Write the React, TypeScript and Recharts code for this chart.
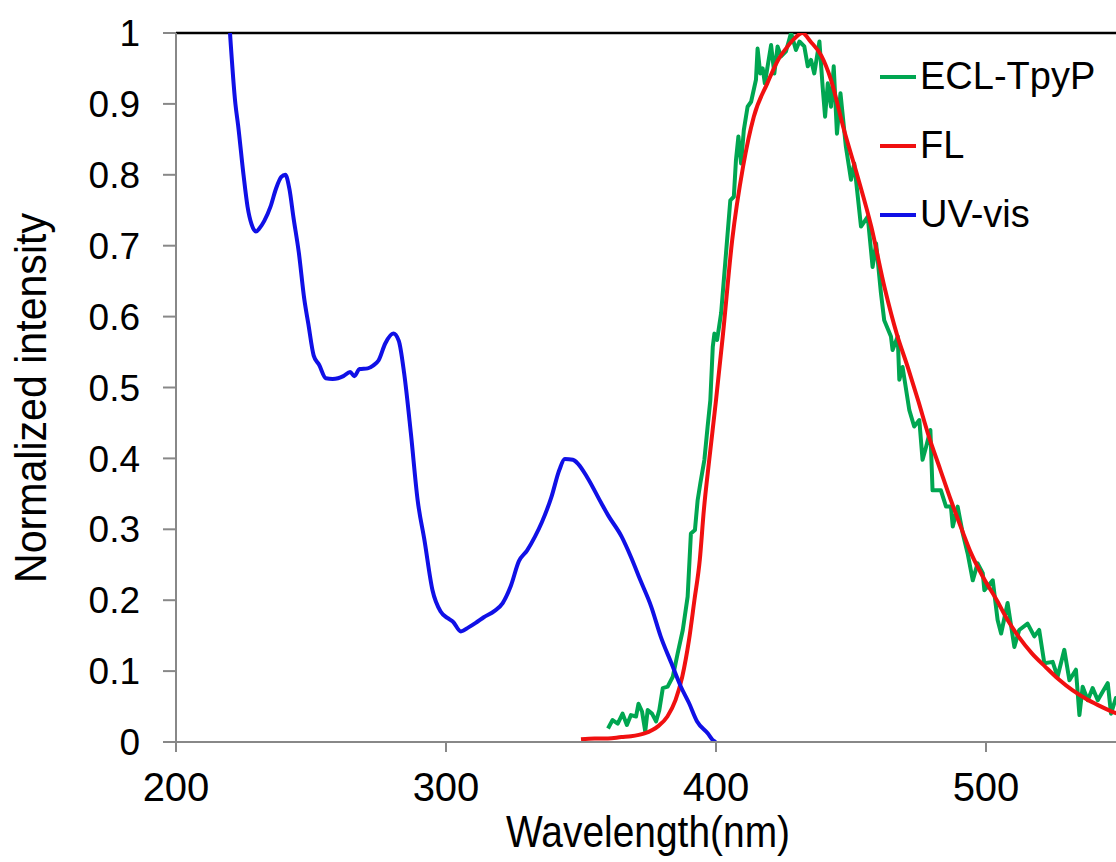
import { LineChart, Line, XAxis, YAxis, Legend, Label, ReferenceLine } from 'recharts'

const FONT = '"Liberation Sans", Arial, sans-serif'

const xTicks = [200, 300, 400, 500]
const yTicks = [0, 0.1, 0.2, 0.3, 0.4, 0.5, 0.6, 0.7, 0.8, 0.9, 1]

// UV-vis absorption
const uvX = [
  220, 222, 223, 225, 226.5, 228, 229.6, 231, 232.7, 235, 237, 239, 240.5, 242, 243.5, 245.5,
  247.5, 249, 251, 253, 255.5, 258, 260, 262, 264.5, 266, 268, 271, 273, 275, 277.5, 280.5,
  282.5, 284.5, 287, 289.5, 292, 295, 298, 300.5, 302.5, 305.5, 308.5, 311, 314, 318, 321,
  324, 327, 330, 333, 335.5, 339, 342, 344, 347, 349, 352.5, 357.5, 360, 365, 368.5, 372,
  376, 379.5, 383.5, 387, 390, 393, 397, 399, 400,
]
const uvY = [
  1.0, 0.9, 0.87, 0.8, 0.755, 0.73, 0.72, 0.725, 0.735, 0.755, 0.78, 0.797, 0.8, 0.78, 0.74, 0.69,
  0.625, 0.59, 0.545, 0.532, 0.513, 0.512, 0.513, 0.516, 0.522, 0.516, 0.526, 0.527, 0.531, 0.538, 0.562, 0.576,
  0.566, 0.52, 0.435, 0.341, 0.285, 0.214, 0.184, 0.175, 0.17, 0.156, 0.162, 0.168, 0.176, 0.185, 0.196,
  0.22, 0.255, 0.27, 0.29, 0.31, 0.345, 0.384, 0.399, 0.398, 0.392, 0.372, 0.337, 0.32, 0.29, 0.261, 0.228,
  0.191, 0.149, 0.111, 0.078, 0.055, 0.029, 0.012, 0.002, 0,
]

// fluorescence
const flX = [
  350, 355, 360, 365, 368.5, 373.5, 378.5, 382, 385, 387.5, 390, 392, 394, 395.5, 397.5, 400,
  402.5, 406, 410, 414, 419, 423, 426.5, 429, 432, 435, 439, 442.5, 447.5, 452.5, 457.5, 462.5,
  467, 471, 475, 478.5, 483, 487, 491, 494.5, 499, 504, 508, 512, 517, 522, 527, 532, 537,
  541.5, 546, 550,
]
const flY = [
  0.004, 0.005, 0.005, 0.007, 0.008, 0.012, 0.022, 0.036, 0.059, 0.092, 0.144, 0.2, 0.257, 0.327, 0.398, 0.482,
  0.572, 0.708, 0.811, 0.882, 0.929, 0.962, 0.981, 0.992, 1.0, 0.988, 0.968, 0.935, 0.862, 0.797, 0.727, 0.64,
  0.575, 0.529, 0.48, 0.435, 0.385, 0.341, 0.3, 0.266, 0.232, 0.2, 0.172, 0.149, 0.125, 0.106, 0.088, 0.073, 0.061,
  0.052, 0.044, 0.038,
]

// ECL of TpyP
const eclX = [
  360, 361.7, 363.6, 365.4, 367, 368.5, 370.4, 371.3, 372.6, 373.8, 374.7, 376.3, 377.8, 379, 380.3, 382.1,
  384, 385.8, 387.7, 389.5, 390.7, 392.2, 393.2, 394.2, 395.7, 396.9, 397.9, 398.8, 399.4, 400.4, 401.9, 403.7,
  405.3, 406.6, 407.4, 408.3, 409.3, 410.3, 411.7, 413, 414.8, 415.4, 416.4, 417.3, 418.1, 420.4, 421.6, 422.8,
  424.1, 425.9, 427.8, 429.6, 430.9, 432.7, 434, 435.2, 436.4, 438.3, 439.5, 440.4, 441.4, 442.6, 443.6, 444.8,
  446.1, 448.1, 450, 451.2, 453.7, 456.2, 458, 459.3, 461.1, 462.3, 464.8, 465.4, 467.3, 467.9, 469.1, 471.6,
  473.4, 475.3, 476.5, 477.8, 479.4, 480.2, 483.3, 485.2, 487, 487.7, 489.5, 491.4, 493.2, 495.1, 496.9, 498.8,
  499.4, 502.5, 504.3, 505.6, 508, 510.5, 512.3, 515.4, 517.9, 519.7, 521.6, 524.7, 526.5, 529, 530.9, 533.3,
  534.6, 535.8, 537.7, 539.5, 541.4, 543.2, 545.1, 546.3, 548.1, 550,
]
const eclY = [
  0.019, 0.031, 0.026, 0.04, 0.024, 0.038, 0.036, 0.054, 0.043, 0.015, 0.045, 0.04, 0.029, 0.045, 0.076, 0.078,
  0.092, 0.125, 0.158, 0.205, 0.294, 0.299, 0.341, 0.365, 0.398, 0.445, 0.482, 0.557, 0.576, 0.567, 0.605, 0.689,
  0.764, 0.769, 0.821, 0.854, 0.816, 0.863, 0.896, 0.903, 0.934, 0.978, 0.943, 0.95, 0.929, 0.983, 0.943, 0.981,
  0.967, 0.974, 1.0, 0.976, 0.988, 0.981, 0.953, 0.962, 0.943, 0.988, 0.924, 0.882, 0.929, 0.896, 0.953, 0.858,
  0.915, 0.84, 0.793, 0.816, 0.727, 0.741, 0.67, 0.703, 0.633, 0.595, 0.572, 0.553, 0.572, 0.511, 0.529, 0.468,
  0.445, 0.454, 0.398, 0.416, 0.44, 0.355, 0.355, 0.332, 0.332, 0.304, 0.332, 0.294, 0.266, 0.228, 0.252, 0.238,
  0.214, 0.228, 0.172, 0.153, 0.196, 0.134, 0.158, 0.167, 0.149, 0.158, 0.111, 0.113, 0.092, 0.13, 0.087, 0.102,
  0.038, 0.078, 0.059, 0.076, 0.059, 0.071, 0.083, 0.04, 0.062, 0.05,
]

const toPoints = (xs: number[], ys: number[]) => xs.map((x, i) => ({ x, y: ys[i] }))

const uvData = toPoints(uvX, uvY)
const flData = toPoints(flX, flY)
const eclData = toPoints(eclX, eclY)

const GREEN = '#00a651'
const RED = '#f01010'
const BLUE = '#1010e6'
const AXIS = '#888888'

function LegendBox({ payload }: any) {
  return (
    <div style={{ fontFamily: FONT, fontSize: 38, color: '#000' }}>
      {(payload || []).map((p: any) => (
        <div key={p.value} style={{ display: 'flex', alignItems: 'center', height: 69 }}>
          <span style={{ display: 'inline-block', width: 36, height: 4, background: p.color, marginRight: 4 }} />
          <span>{p.value}</span>
        </div>
      ))}
    </div>
  )
}

// axis titles in the original are a condensed face, squeeze Liberation Sans to the same length
const xTitle = () => (
  <text x={648} y={847} textAnchor="middle" fontSize={45} fontFamily={FONT} fill="#000"
    textLength={284} lengthAdjust="spacingAndGlyphs">
    Wavelength(nm)
  </text>
)

const yTitle = () => (
  <text x={0} y={0} transform="translate(46 398) rotate(-90)" textAnchor="middle" fontSize={45}
    fontFamily={FONT} fill="#000" textLength={370} lengthAdjust="spacingAndGlyphs">
    Normalized intensity
  </text>
)

export default function App() {
  return (
    <div style={{ position: 'absolute', left: 0, top: 0, width: 1116, height: 862, overflow: 'hidden', background: '#fff' }}>
      <LineChart width={1121} height={862} margin={{ top: 33, right: 0, bottom: 0, left: 0 }}>
        <XAxis
          dataKey="x"
          type="number"
          domain={[200, 550]}
          ticks={xTicks}
          height={120}
          axisLine={{ stroke: AXIS, strokeWidth: 2 }}
          tickLine={{ stroke: AXIS, strokeWidth: 2 }}
          tickSize={10}
          tickMargin={21}
          tick={{ fontSize: 40, fill: '#000', fontFamily: FONT }}
          allowDataOverflow
        >
          <Label content={xTitle} />
        </XAxis>
        <YAxis
          type="number"
          domain={[0, 1]}
          ticks={yTicks}
          width={176}
          axisLine={{ stroke: AXIS, strokeWidth: 2 }}
          tickLine={{ stroke: AXIS, strokeWidth: 2 }}
          tickSize={13}
          tickMargin={23}
          tick={{ fontSize: 37, fill: '#000', fontFamily: FONT }}
          tickFormatter={v => (v === 0 ? '0' : v === 1 ? '1' : v.toFixed(1))}
          allowDataOverflow
        >
          <Label content={yTitle} />
        </YAxis>
        <ReferenceLine y={1} stroke="#000" strokeWidth={2.5} />
        <Legend
          layout="vertical"
          align="center"
          verticalAlign="middle"
          content={<LegendBox />}
          wrapperStyle={{ position: 'absolute', left: 880, top: 42, width: 236 }}
        />
        <Line data={eclData} dataKey="y" name="ECL-TpyP" type="linear" stroke={GREEN} strokeWidth={4} strokeLinejoin="round" dot={false} activeDot={false} isAnimationActive={false} />
        <Line data={flData} dataKey="y" name="FL" type="monotone" stroke={RED} strokeWidth={4} dot={false} activeDot={false} isAnimationActive={false} />
        <Line data={uvData} dataKey="y" name="UV-vis" type="monotone" stroke={BLUE} strokeWidth={4} dot={false} activeDot={false} isAnimationActive={false} />
      </LineChart>
    </div>
  )
}
